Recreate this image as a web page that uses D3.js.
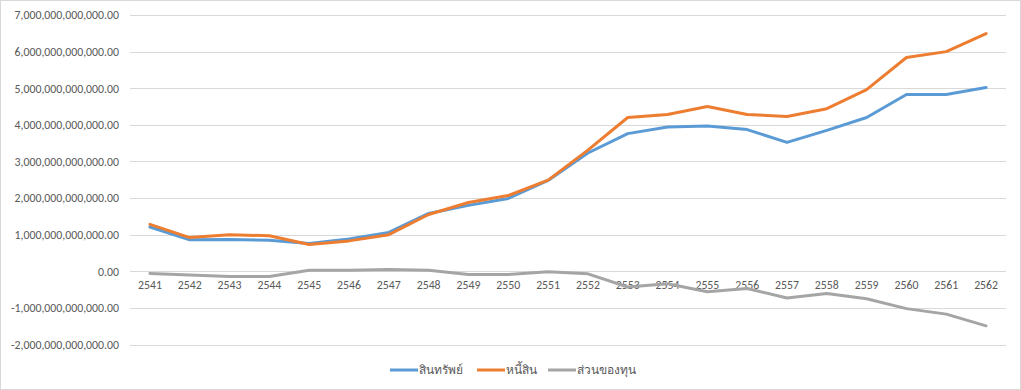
<!DOCTYPE html>
<html><head><meta charset="utf-8">
<script src="https://cdn.jsdelivr.net/npm/d3@7"></script>
<style>
html,body{margin:0;padding:0;background:#fff;}
svg{display:block;}
text{font-family:Carlito,Calibri,"Liberation Sans",sans-serif;fill:#595959;}
</style></head>
<body>
<svg id="chart" width="1021" height="390"></svg>
<script>
const categories = ["2541","2542","2543","2544","2545","2546","2547","2548","2549","2550","2551","2552","2553","2554","2555","2556","2557","2558","2559","2560","2561","2562"];
const assets = [1.21e12,0.86e12,0.87e12,0.85e12,0.76e12,0.88e12,1.06e12,1.58e12,1.80e12,1.99e12,2.48e12,3.23e12,3.76e12,3.94e12,3.97e12,3.87e12,3.52e12,3.85e12,4.20e12,4.83e12,4.83e12,5.02e12];
const liabilities = [1.28e12,0.92e12,1.00e12,0.97e12,0.73e12,0.83e12,1.00e12,1.55e12,1.88e12,2.07e12,2.49e12,3.31e12,4.20e12,4.28e12,4.50e12,4.28e12,4.23e12,4.44e12,4.96e12,5.84e12,6.00e12,6.49e12];
const equity = [-0.06e12,-0.10e12,-0.145e12,-0.145e12,0.03e12,0.03e12,0.05e12,0.03e12,-0.09e12,-0.09e12,-0.01e12,-0.07e12,-0.43e12,-0.34e12,-0.56e12,-0.47e12,-0.73e12,-0.61e12,-0.75e12,-1.02e12,-1.17e12,-1.49e12];
const yTicks = [-2e12,-1e12,0,1e12,2e12,3e12,4e12,5e12,6e12,7e12];
const seriesNames = ["สินทรัพย์","หนี้สิน","ส่วนของทุน"];
const seriesColors = ["#5B9BD5","#ED7D31","#A5A5A5"];

(function(){
const series = [assets, liabilities, equity];
const svg = d3.select("#chart");
svg.append("rect").attr("x",0.5).attr("y",0.5).attr("width",1020).attr("height",389)
  .attr("fill","#fff").attr("stroke","#D9D9D9");

const pLeft = 130, pRight = 1006, pTop = 15, pBottom = 344.5;
const x = d3.scaleBand().domain(categories).range([pLeft, pRight]);
const y = d3.scaleLinear().domain([-2e12, 7e12]).range([pBottom, pTop]);

const fmt = v => d3.format(",.2f")(v).replace("\u2212","-");

svg.append("g").selectAll("line").data(yTicks).join("line")
  .attr("x1", pLeft).attr("x2", pRight)
  .attr("y1", d => Math.round(y(d))+0.5).attr("y2", d => Math.round(y(d))+0.5)
  .attr("stroke", "#D9D9D9").attr("stroke-width", 1);

const yAxis = d3.axisLeft(y).tickValues(yTicks).tickFormat(fmt).tickSize(0).tickPadding(0);
const gy = svg.append("g").attr("transform", `translate(119,0)`).call(yAxis);
gy.select(".domain").remove();
gy.selectAll("text").attr("font-size", "11.8px").attr("fill", "#595959")
  .style("font-family", 'Carlito,Calibri,"Liberation Sans",sans-serif');

const xAxis = d3.axisBottom(x).tickSize(0).tickPadding(0);
const gx = svg.append("g").attr("transform", `translate(0,${y(0)+9})`).call(xAxis);
gx.select(".domain").remove();
gx.selectAll("text").attr("font-size", "11.8px").attr("fill", "#595959")
  .style("font-family", 'Carlito,Calibri,"Liberation Sans",sans-serif');

const line = d3.line().x((d,i) => x(categories[i]) + x.bandwidth()/2).y(d => y(d));
series.forEach((s, k) => {
  svg.append("path").datum(s).attr("d", line).attr("fill","none")
    .attr("stroke", seriesColors[k]).attr("stroke-width", 3)
    .attr("stroke-linejoin","round").attr("stroke-linecap","round");
});

const legendX = [390, 477, 548];
const lg = svg.append("g");
seriesNames.forEach((n, k) => {
  lg.append("line").attr("x1", legendX[k]).attr("x2", legendX[k]+28)
    .attr("y1", 370).attr("y2", 370).attr("stroke", seriesColors[k]).attr("stroke-width", 3);
  lg.append("text").attr("x", legendX[k]+29).attr("y", 374).attr("font-size","12px").text(n);
});
})();
</script>
</body></html>
